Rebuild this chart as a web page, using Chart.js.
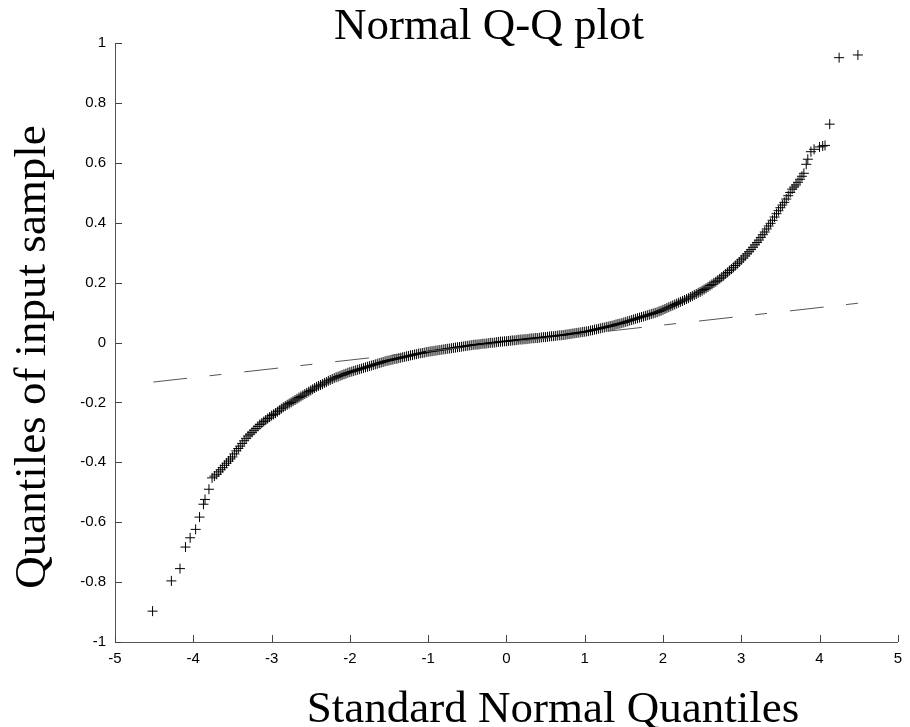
<!DOCTYPE html>
<html>
<head>
<meta charset="utf-8">
<script src="https://cdn.jsdelivr.net/npm/chart.js@4.4.1/dist/chart.umd.min.js"></script>
<style>
html,body{margin:0;padding:0;background:#fff;}
#wrap{width:910px;height:727px;}
</style>
</head>
<body>
<div id="wrap"><canvas id="c" width="910" height="727"></canvas></div>
<script>
// ---- data ----
const titleText = "Normal Q-Q plot";
const xAxisTitle = "Standard Normal Quantiles";
const yAxisTitle = "Quantiles of input sample";

const xTickValues = [-5,-4,-3,-2,-1,0,1,2,3,4,5];
const xTickLabels = ["-5","-4","-3","-2","-1","0","1","2","3","4","5"];
const yTickValues = [-1,-0.8,-0.6,-0.4,-0.2,0,0.2,0.4,0.6,0.8,1];
const yTickLabels = ["-1","-0.8","-0.6","-0.4","-0.2","0","0.2","0.4","0.6","0.8","1"];

// standard normal quantiles (x) of the plotted sample points
const qx = [
 -4.52,-4.28,-4.17,-4.10,-4.04,-3.97,-3.92,-3.87,-3.85,-3.80,-3.76,-3.73,
 -3.700,-3.675,-3.650,-3.625,-3.600,-3.575,-3.550,-3.525,-3.500,-3.475,
 -3.450,-3.425,-3.400,-3.375,-3.350,-3.325,-3.300,-3.275,-3.250,-3.225,
 -3.200,-3.175,-3.150,-3.125,-3.100,-3.075,-3.050,-3.025,-3.000,-2.975,
 -2.950,-2.925,-2.900,-2.875,-2.850,-2.825,-2.800,-2.775,-2.750,-2.725,
 -2.700,-2.675,-2.650,-2.625,-2.600,-2.575,-2.550,-2.525,-2.500,-2.475,
 -2.450,-2.425,-2.400,-2.375,-2.350,-2.325,-2.300,-2.275,-2.250,-2.225,
 -2.200,-2.175,-2.150,-2.125,-2.100,-2.075,-2.050,-2.025,-2.000,-1.975,
 -1.950,-1.925,-1.900,-1.875,-1.850,-1.825,-1.800,-1.775,-1.750,-1.725,
 -1.700,-1.675,-1.650,-1.625,-1.600,-1.575,-1.550,-1.525,-1.500,-1.475,
 -1.450,-1.425,-1.400,-1.375,-1.350,-1.325,-1.300,-1.275,-1.250,-1.225,
 -1.200,-1.175,-1.150,-1.125,-1.100,-1.075,-1.050,-1.025,-1.000,-0.975,
 -0.950,-0.925,-0.900,-0.875,-0.850,-0.825,-0.800,-0.775,-0.750,-0.725,
 -0.700,-0.675,-0.650,-0.625,-0.600,-0.575,-0.550,-0.525,-0.500,-0.475,
 -0.450,-0.425,-0.400,-0.375,-0.350,-0.325,-0.300,-0.275,-0.250,-0.225,
 -0.200,-0.175,-0.150,-0.125,-0.100,-0.075,-0.050,-0.025,0.000,0.025,
 0.050,0.075,0.100,0.125,0.150,0.175,0.200,0.225,0.250,0.275,
 0.300,0.325,0.350,0.375,0.400,0.425,0.450,0.475,0.500,0.525,
 0.550,0.575,0.600,0.625,0.650,0.675,0.700,0.725,0.750,0.775,
 0.800,0.825,0.850,0.875,0.900,0.925,0.950,0.975,1.000,1.025,
 1.050,1.075,1.100,1.125,1.150,1.175,1.200,1.225,1.250,1.275,
 1.300,1.325,1.350,1.375,1.400,1.425,1.450,1.475,1.500,1.525,
 1.550,1.575,1.600,1.625,1.650,1.675,1.700,1.725,1.750,1.775,
 1.800,1.825,1.850,1.875,1.900,1.925,1.950,1.975,2.000,2.025,
 2.050,2.075,2.100,2.125,2.150,2.175,2.200,2.225,2.250,2.275,
 2.300,2.325,2.350,2.375,2.400,2.425,2.450,2.475,2.500,2.525,
 2.550,2.575,2.600,2.625,2.650,2.675,2.700,2.725,2.750,2.775,
 2.800,2.825,2.850,2.875,2.900,2.925,2.950,2.975,3.000,3.025,
 3.050,3.075,3.100,3.125,3.150,3.175,3.200,3.225,3.250,3.275,
 3.300,3.325,3.350,3.375,3.400,3.425,3.450,3.475,3.500,3.525,
 3.550,3.575,3.600,3.625,3.650,3.675,3.700,3.725,3.750,3.775,
 3.800,3.830,3.850,3.890,3.930,4.000,4.040,4.070,4.130,4.250,4.490
];
// quantiles of input sample (y)
const qy = [
 -0.897,-0.796,-0.755,-0.683,-0.652,-0.624,-0.583,-0.540,-0.524,-0.490,-0.452,-0.446,
 -0.440,-0.432,-0.425,-0.418,-0.410,-0.403,-0.396,-0.389,-0.382,-0.372,
 -0.362,-0.354,-0.346,-0.337,-0.328,-0.320,-0.312,-0.306,-0.300,-0.293,
 -0.287,-0.280,-0.274,-0.269,-0.264,-0.259,-0.254,-0.249,-0.244,-0.240,
 -0.236,-0.231,-0.226,-0.221,-0.216,-0.212,-0.208,-0.204,-0.200,-0.196,
 -0.192,-0.188,-0.184,-0.180,-0.176,-0.172,-0.168,-0.164,-0.160,-0.156,
 -0.152,-0.148,-0.145,-0.142,-0.139,-0.135,-0.132,-0.128,-0.125,-0.122,
 -0.119,-0.116,-0.114,-0.111,-0.109,-0.106,-0.104,-0.101,-0.099,-0.097,
 -0.095,-0.093,-0.091,-0.089,-0.087,-0.085,-0.083,-0.081,-0.079,-0.077,
 -0.075,-0.073,-0.071,-0.069,-0.067,-0.065,-0.063,-0.061,-0.060,-0.058,
 -0.057,-0.055,-0.054,-0.052,-0.051,-0.049,-0.048,-0.046,-0.045,-0.043,
 -0.042,-0.040,-0.039,-0.037,-0.036,-0.035,-0.034,-0.032,-0.031,-0.030,
 -0.029,-0.028,-0.027,-0.026,-0.025,-0.024,-0.023,-0.022,-0.021,-0.020,
 -0.019,-0.018,-0.017,-0.016,-0.015,-0.014,-0.013,-0.012,-0.011,-0.010,
 -0.009,-0.008,-0.007,-0.007,-0.006,-0.005,-0.004,-0.004,-0.003,-0.002,
 -0.001,-0.001,0.000,0.001,0.002,0.003,0.003,0.004,0.004,0.005,
 0.006,0.007,0.007,0.008,0.009,0.010,0.010,0.011,0.011,0.012,
 0.013,0.014,0.014,0.015,0.015,0.016,0.017,0.018,0.018,0.019,
 0.020,0.021,0.021,0.022,0.023,0.024,0.024,0.025,0.026,0.027,
 0.028,0.029,0.030,0.031,0.032,0.033,0.034,0.035,0.036,0.037,
 0.038,0.040,0.041,0.043,0.044,0.046,0.047,0.049,0.050,0.052,
 0.053,0.055,0.056,0.058,0.060,0.062,0.063,0.065,0.067,0.069,
 0.071,0.073,0.075,0.077,0.079,0.081,0.083,0.085,0.087,0.089,
 0.091,0.093,0.095,0.097,0.099,0.101,0.104,0.106,0.109,0.112,
 0.115,0.118,0.121,0.124,0.127,0.130,0.133,0.136,0.139,0.142,
 0.145,0.148,0.152,0.155,0.159,0.162,0.166,0.169,0.173,0.177,
 0.181,0.185,0.190,0.194,0.199,0.203,0.208,0.213,0.218,0.223,
 0.229,0.234,0.240,0.245,0.251,0.257,0.263,0.269,0.276,0.282,
 0.289,0.296,0.303,0.310,0.318,0.326,0.334,0.342,0.351,0.360,
 0.369,0.379,0.389,0.398,0.408,0.419,0.430,0.440,0.450,0.459,
 0.468,0.479,0.490,0.501,0.512,0.519,0.526,0.535,0.545,0.555,
 0.565,0.595,0.612,0.637,0.645,0.653,0.656,0.658,0.729,0.951,0.960
];

// dashed reference line end points
const refX = [-4.51, 4.49];
const refY = [-0.132, 0.131];

// ---- build chart ----
const samplePoints = qx.map((x, i) => ({x: x, y: qy[i]}));
const refPoints = refX.map((x, i) => ({x: x, y: refY[i]}));

const inwardTicks = {
  id: 'inwardTicks',
  afterDatasetsDraw(chart) {
    const ctx = chart.ctx;
    const xs = chart.scales.x, ys = chart.scales.y;
    const a = chart.chartArea;
    ctx.save();
    ctx.strokeStyle = '#444';
    ctx.lineWidth = 1;
    ctx.beginPath();
    xTickValues.forEach(v => {
      const px = Math.round(xs.getPixelForValue(v)) + 0.5;
      ctx.moveTo(px, a.bottom);
      ctx.lineTo(px, a.bottom - 7);
    });
    yTickValues.forEach(v => {
      const py = Math.round(ys.getPixelForValue(v)) + 0.5;
      ctx.moveTo(a.left, py);
      ctx.lineTo(a.left + 7, py);
    });
    ctx.stroke();
    ctx.restore();
  }
};

const textLabels = {
  id: 'textLabels',
  afterDraw(chart) {
    const ctx = chart.ctx;
    ctx.save();
    ctx.fillStyle = '#000';
    ctx.font = '45px "Liberation Serif", "Times New Roman", serif';
    ctx.textAlign = 'center';
    ctx.textBaseline = 'alphabetic';
    ctx.fillText(titleText, 489, 39);
    ctx.fillText(xAxisTitle, 553, 722);
    ctx.translate(45, 357);
    ctx.rotate(-Math.PI / 2);
    ctx.fillText(yAxisTitle, 0, 0);
    ctx.restore();
  }
};

new Chart(document.getElementById('c'), {
  type: 'scatter',
  data: {
    datasets: [
      {
        label: 'reference',
        type: 'line',
        data: refPoints,
        showLine: true,
        borderColor: '#555',
        borderWidth: 1,
        borderDash: [34, 22.5, 12, 23],
        pointRadius: 0,
        fill: false,
        tension: 0
      },
      {
        label: 'sample',
        data: samplePoints,
        pointStyle: 'cross',
        pointRadius: 5,
        pointBorderWidth: 1,
        borderColor: '#000',
        backgroundColor: '#000',
        showLine: false
      }
    ]
  },
  options: {
    responsive: false,
    animation: false,
    devicePixelRatio: 1,
    layout: { padding: { top: 43, right: 4, left: 0, bottom: 0 } },
    plugins: {
      legend: { display: false },
      tooltip: { enabled: false },
      title: { display: false }
    },
    scales: {
      x: {
        type: 'linear',
        min: -5, max: 5,
        afterBuildTicks(scale) { scale.ticks = xTickValues.map(v => ({value: v})); },
        afterFit(scale) { scale.height = 85; },
        ticks: {
          autoSkip: false,
          maxRotation: 0,
          padding: 8,
          color: '#000',
          font: { family: '"Liberation Sans", Arial, sans-serif', size: 15 },
          callback(v) { const i = xTickValues.indexOf(v); return i >= 0 ? xTickLabels[i] : ''; }
        },
        grid: { display: false, drawTicks: false },
        border: { display: true, color: '#555', width: 1 }
      },
      y: {
        type: 'linear',
        min: -1, max: 1,
        afterBuildTicks(scale) { scale.ticks = yTickValues.map(v => ({value: v})); },
        afterFit(scale) { scale.width = 115; },
        ticks: {
          autoSkip: false,
          padding: 9,
          color: '#000',
          font: { family: '"Liberation Sans", Arial, sans-serif', size: 15 },
          callback(v) {
            const i = yTickValues.findIndex(t => Math.abs(t - v) < 1e-9);
            return i >= 0 ? yTickLabels[i] : '';
          }
        },
        grid: { display: false, drawTicks: false },
        border: { display: true, color: '#555', width: 1 }
      }
    }
  },
  plugins: [inwardTicks, textLabels]
});
</script>
</body>
</html>
